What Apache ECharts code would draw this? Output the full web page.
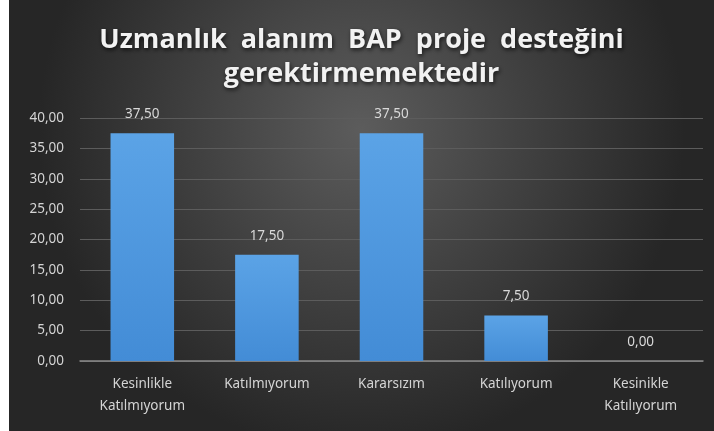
<!DOCTYPE html>
<html><head><meta charset="utf-8">
<script src="https://cdn.jsdelivr.net/npm/echarts@6/dist/echarts.min.js"></script>
<style>html,body{margin:0;padding:0;background:#fff;}#c{position:absolute;left:9px;top:0;width:705px;height:431px;}</style>
</head><body><div id="c"></div>
<script>
const titleText = 'Uzmanlık  alanım  BAP  proje  desteğini\ngerektirmemektedir';
const categories = ['Kesinlikle\nKatılmıyorum', 'Katılmıyorum', 'Kararsızım', 'Katılıyorum', 'Kesinikle\nKatılıyorum'];
const values = [37.5, 17.5, 37.5, 7.5, 0];
const yMin = 0, yMax = 40, yStep = 5;
const fmt = v => v.toFixed(2).replace('.', ',');
const chart = echarts.init(document.getElementById('c'));
chart.setOption({
  backgroundColor: {type:'radial', x:0.5, y:0.3, r:0.75, colorStops:[{offset:0,color:'#5c5c5c'},{offset:1,color:'#262626'}]},
  title: {text: titleText, left: 'center', top: 18,
    textStyle:{color:'#f2f2f2', fontFamily:'Open Sans', fontWeight:'bold', fontSize:27, lineHeight:34,
      textShadowColor:'rgba(0,0,0,0.7)', textShadowBlur:4, textShadowOffsetX:1, textShadowOffsetY:2}},
  grid: {left: 71, right: 11, top: 118, bottom: 70},
  xAxis: {type:'category', data: categories,
    axisLine:{lineStyle:{color:'#8a8a8a', width:1.5}}, axisTick:{show:false},
    axisLabel:{color:'#d4d4d4', fontFamily:'Noto Sans', fontSize:13.5, lineHeight:22, margin:12}},
  yAxis: {type:'value', min:yMin, max:yMax, interval:yStep,
    axisLine:{show:false}, axisTick:{show:false},
    splitLine:{lineStyle:{color:'#5c5c5c', width:1}},
    axisLabel:{color:'#d4d4d4', fontFamily:'Noto Sans', fontSize:13.5, margin:16, formatter: fmt}},
  series: [{type:'bar', data: values, barWidth:'51%',
    itemStyle:{color:{type:'linear',x:0,y:0,x2:0,y2:1,colorStops:[{offset:0,color:'#5ba3e6'},{offset:1,color:'#438cd6'}]}},
    label:{show:true, position:'top', distance:12, color:'#d9d9d9', fontFamily:'Noto Sans', fontSize:13.5, formatter: p => fmt(p.value)}}]
});
</script></body></html>
